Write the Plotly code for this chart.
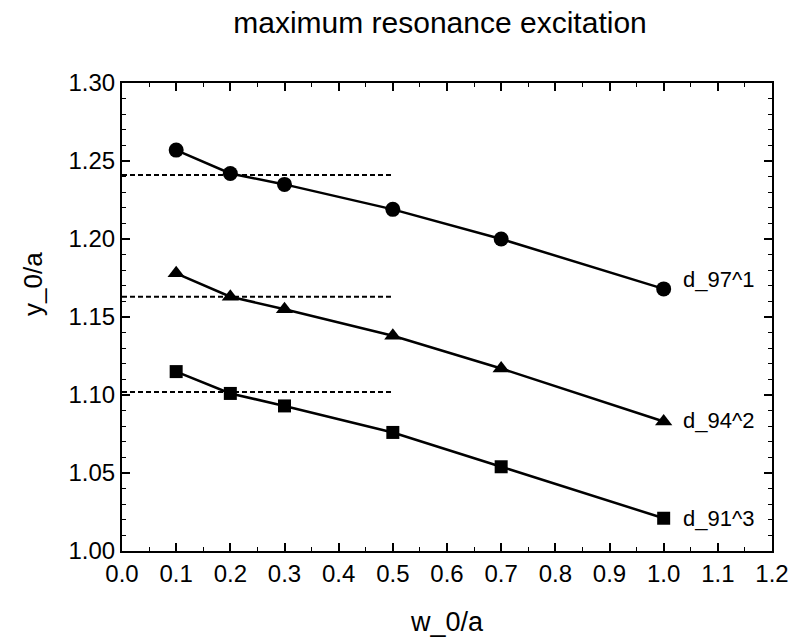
import plotly.graph_objects as go

# Width parameter w_0/a
w = [0.1, 0.2, 0.3, 0.5, 0.7, 1.0]

# Maximum resonance excitation y_0/a for each series
y_d97_1 = [1.257, 1.242, 1.235, 1.219, 1.200, 1.168]
y_d94_2 = [1.178, 1.163, 1.155, 1.138, 1.117, 1.083]
y_d91_3 = [1.115, 1.101, 1.093, 1.076, 1.054, 1.021]

series_names = ["d_97^1", "d_94^2", "d_91^3"]
series_symbols = ["circle", "triangle-up", "square"]
marker_sizes = [15, 15, 13]
label_lift = [9, 1, 0]

# Reference levels drawn as dashed lines over 0 <= w_0/a <= 0.5
ref_levels = [1.241, 1.163, 1.102]
ref_x = [0.0, 0.5]

FONT = "Liberation Sans, Arial, sans-serif"

fig = go.Figure()

for lvl in ref_levels:
    fig.add_trace(go.Scatter(
        x=ref_x, y=[lvl, lvl], mode="lines",
        line=dict(color="black", width=2, dash="5px,3px"),
        showlegend=False, hoverinfo="skip",
    ))

for name, sym, size, lift, ys in zip(series_names, series_symbols, marker_sizes,
                                     label_lift, [y_d97_1, y_d94_2, y_d91_3]):
    fig.add_trace(go.Scatter(
        x=w, y=ys, mode="lines+markers", name=name,
        line=dict(color="black", width=2.5),
        marker=dict(symbol=sym, size=size, color="black"),
        showlegend=False,
    ))
    fig.add_annotation(
        x=w[-1], y=ys[-1], text=name, showarrow=False,
        xanchor="left", yanchor="middle", xshift=17, yshift=lift,
        font=dict(family=FONT, size=22, color="black"),
    )

axis_common = dict(
    showline=True, linecolor="black", linewidth=2.2, mirror="allticks",
    ticks="inside", ticklen=8, tickwidth=1.6, tickcolor="black",
    showgrid=False, zeroline=False,
    tickfont=dict(family=FONT, size=24, color="black"),
)

fig.update_xaxes(
    range=[0.0, 1.2], dtick=0.1, tickformat=".1f",
    minor=dict(dtick=0.05, ticks="inside", ticklen=4, tickcolor="black", tickwidth=1.3),
    title=dict(text="w_0/a", font=dict(family=FONT, size=27, color="black"), standoff=26),
    **axis_common,
)
fig.update_yaxes(
    range=[1.0, 1.3], dtick=0.05, tickformat=".2f",
    minor=dict(dtick=0.01, ticks="inside", ticklen=4, tickcolor="black", tickwidth=1.3),
    **axis_common,
)

# Vertical axis title, placed a little above the middle of the axis
fig.add_annotation(
    text="y_0/a", textangle=-90, showarrow=False,
    xref="paper", yref="paper", x=(33 - 122) / 655, y=0.57,
    xanchor="center", yanchor="middle",
    font=dict(family=FONT, size=26, color="black"),
)

fig.update_layout(
    width=801, height=644,
    margin=dict(l=122, r=24, t=83, b=89),
    paper_bgcolor="white", plot_bgcolor="white",
    title=dict(
        text="maximum resonance excitation",
        font=dict(family=FONT, size=30, color="black"),
        x=440 / 801, xref="container", xanchor="center",
        y=1 - 22 / 644, yref="container", yanchor="middle",
    ),
)

fig.write_html("out.html")
